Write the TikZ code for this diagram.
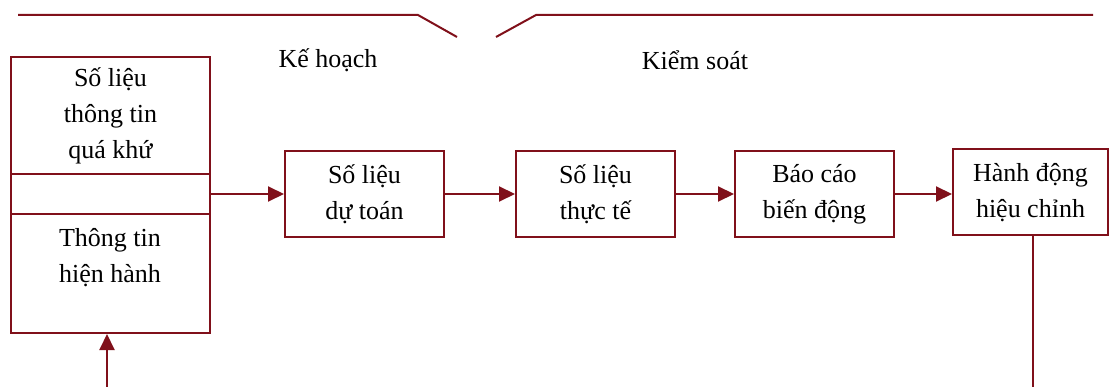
\documentclass[tikz,border=0pt]{standalone}
\usepackage{fontspec}
\setmainfont{Liberation Serif}
\usetikzlibrary{arrows.meta}
\definecolor{dred}{RGB}{128,16,26}
\begin{document}
\begin{tikzpicture}[x=1pt,y=-1pt,
  txt/.style={font=\fontsize{26}{36}\selectfont, align=center, inner sep=0pt},
  box/.style={txt, draw=dred, line width=2pt, minimum width=#1},
  box/.default=159pt,
  link/.style={draw=dred, line width=2pt},
  flow/.style={link, -{Triangle[length=16pt,width=15pt]}}]
\useasboundingbox (0,0) rectangle (1110,387);

% planning / control bracket along the top
\draw[link] (18,15) -- (418,15) -- (457,37);
\draw[link] (496,37) -- (536,15) -- (1093,15);
\node[txt] (plan) at (328,60) {Kế hoạch};
\node[txt] (ctrl) at (695,60) {Kiểm soát};

% stacked information box on the left
\node[box=199pt, minimum height=117pt] (past) at (110.5,115.5) {Số liệu\\thông tin\\quá khứ};
\node[box=199pt, minimum height=40pt] (mid) at (110.5,194) {};
\node[box=199pt, minimum height=119pt] (cur) at (110.5,273.5) {};
\node[txt] (curtxt) at (110,258) {Thông tin\\hiện hành};

% process chain
\node[box, minimum height=86pt] (est) at (364.5,194) {Số liệu\\dự toán};
\node[box, minimum height=86pt] (act) at (595.5,194) {Số liệu\\thực tế};
\node[box, minimum height=86pt] (var) at (814.5,194) {Báo cáo\\biến động};
\node[box=155pt, minimum height=86pt] (fix) at (1030.5,192.5) {Hành động\\hiệu chỉnh};

\draw[flow] (mid.east) -- (est.west);
\draw[flow] (est.east) -- (act.west);
\draw[flow] (act.east) -- (var.west);
\draw[flow] (var.east) -- (fix.west |- var.east);

% feedback loop running below
\coordinate (fixdown) at (1033,389);
\coordinate (loopup) at (107,389);
\draw[link] (fix.south -| fixdown) -- (fixdown);
\draw[flow] (loopup) -- (loopup |- cur.south);
\end{tikzpicture}
\end{document}
